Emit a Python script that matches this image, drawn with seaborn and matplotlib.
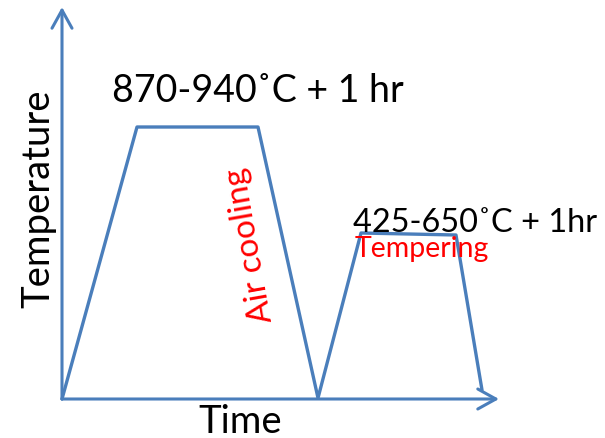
import matplotlib
matplotlib.use("Agg")
import matplotlib.pyplot as plt
import seaborn as sns

# heat treatment profile (time from origin, temperature above time axis)
time_pts = [0, 75, 196, 256, 299, 394, 420]
temp_pts = [0, 272, 272, 1, 166, 164, 9]

# axis arrow lengths
time_axis_end = 437
temp_axis_end = 392

x_label = "Time"
y_label = "Temperature"
hardening_label = "870-940˚C + 1 hr"
temper_label = "425-650˚C + 1hr"
cooling_label = "Air cooling"
temper_note = "Tempering"

sns.set_theme(style="white")
plt.rcParams['font.family'] = ['Lato', 'DejaVu Sans']

blue = "#4a7ebb"

fig = plt.figure(figsize=(6.05, 4.39), dpi=100)
ax = fig.add_axes([0, 0, 1, 1])
ax.set_xlim(-62, 543)
ax.set_ylim(-39, 400)
ax.axis("off")

# axes arrows
arrow = dict(arrowstyle="->,head_length=0.65,head_width=0.36", mutation_scale=20,
             lw=2.2, color=blue, shrinkA=0, shrinkB=0)
ax.annotate("", xy=(0, temp_axis_end), xytext=(0, 0), arrowprops=arrow)
ax.annotate("", xy=(time_axis_end, 0), xytext=(0, 0), arrowprops=arrow)

sns.lineplot(x=time_pts, y=temp_pts, sort=False, estimator=None, color=blue,
             lw=2.4, ax=ax, zorder=3)

ax.text(50, 298, hardening_label, fontsize=27, color="black", ha="left", va="baseline", zorder=5)
ax.text(291, 168, temper_label, fontsize=23.4, color="black", ha="left", va="baseline", zorder=5)
ax.text(293, 143, temper_note, fontsize=20.5, color="red", ha="left", va="baseline", zorder=5)
ax.text(188, 155, cooling_label, fontsize=24, color="red", rotation=100,
        rotation_mode="anchor", ha="center", va="center", zorder=5)
ax.text(178, -33, x_label, fontsize=27.5, color="black", ha="center", va="baseline")
ax.text(-13, 201, y_label, fontsize=27.5, color="black", rotation=90,
        rotation_mode="anchor", ha="center", va="baseline")

plt.savefig("out.png", dpi=100)
plt.close()
